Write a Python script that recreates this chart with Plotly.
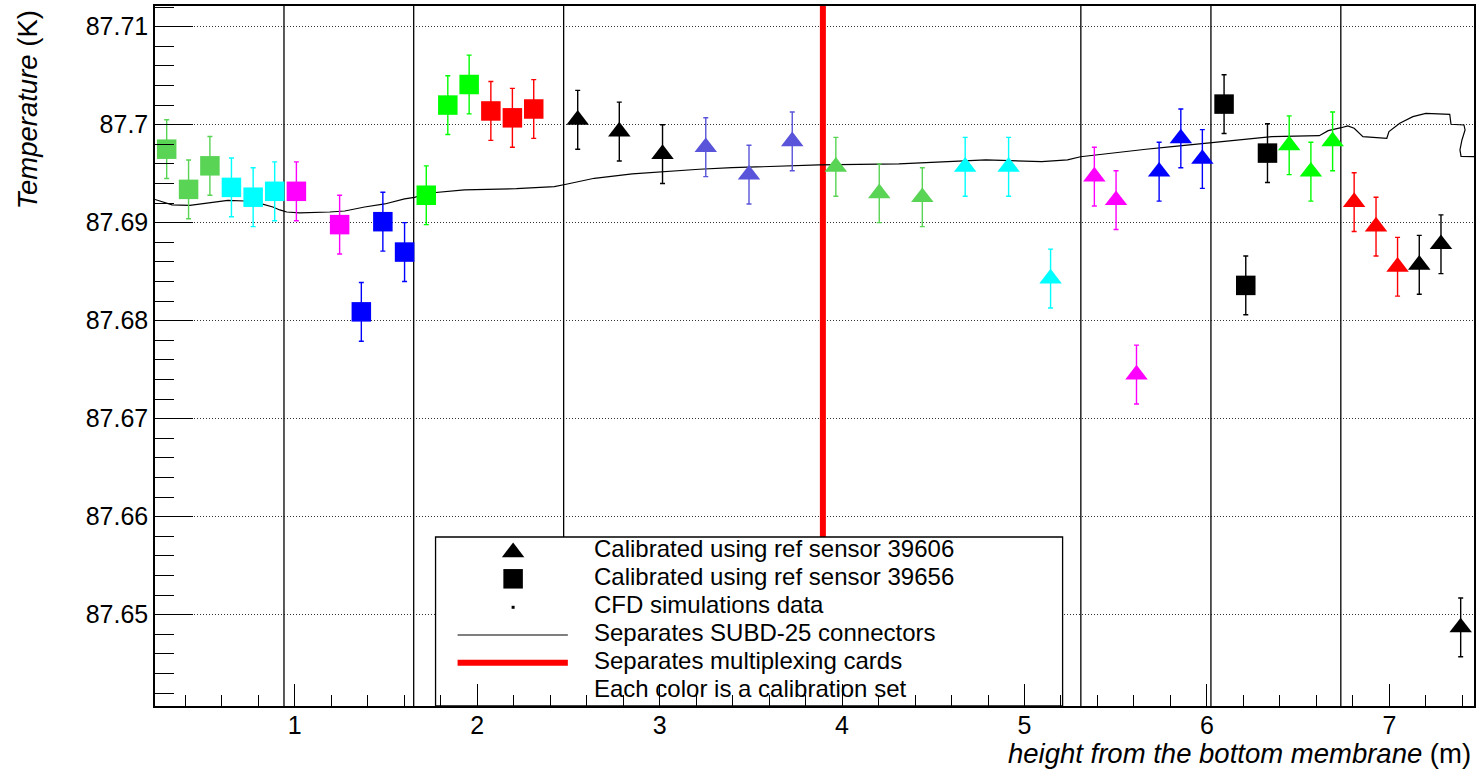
import plotly.graph_objects as go

# ---------------- data ----------------
# calibrated with ref sensor 39656 (squares)
sq_green8_x = [0.298, 0.418, 0.535]
sq_green8_y = [87.6975, 87.6934, 87.6958]
sq_cyan_x = [0.653, 0.772, 0.890]
sq_cyan_y = [87.6936, 87.6926, 87.6932]
sq_magenta_x = [1.009, 1.246]
sq_magenta_y = [87.6932, 87.6898]
sq_blue_x = [1.365, 1.483, 1.602]
sq_blue_y = [87.6809, 87.6901, 87.6870]
sq_green_x = [1.721, 1.839, 1.956]
sq_green_y = [87.6928, 87.7020, 87.7041]
sq_red_x = [2.075, 2.193, 2.310]
sq_red_y = [87.7014, 87.7007, 87.7016]
sq_black_x = [6.094, 6.213, 6.332]
sq_black_y = [87.7021, 87.6836, 87.6971]

# calibrated with ref sensor 39606 (triangles)
tri_black1_x = [2.551, 2.779, 3.016]
tri_black1_y = [87.7005, 87.6993, 87.6970]
tri_slate_x = [3.253, 3.490, 3.727]
tri_slate_y = [87.6977, 87.6949, 87.6983]
tri_green8_x = [3.966, 4.204, 4.440]
tri_green8_y = [87.6957, 87.6930, 87.6926]
tri_cyan_x = [4.675, 4.913, 5.143]
tri_cyan_y = [87.6957, 87.6957, 87.6843]
tri_magenta_x = [5.383, 5.502, 5.614]
tri_magenta_y = [87.6947, 87.6923, 87.6745]
tri_blue_x = [5.738, 5.857, 5.975]
tri_blue_y = [87.6952, 87.6986, 87.6965]
tri_green_x = [6.451, 6.570, 6.689]
tri_green_y = [87.6979, 87.6952, 87.6983]
tri_red_x = [6.807, 6.927, 7.045]
tri_red_y = [87.6921, 87.6896, 87.6855]
tri_black2_x = [7.164, 7.283, 7.391]
tri_black2_y = [87.6857, 87.6878, 87.6487]

err = 0.003

# CFD simulation profile
cfd_x = [0.234, 0.261, 0.327, 0.425, 0.480, 0.562, 0.633, 0.726, 0.819, 0.880,
         0.918, 0.956, 1.027, 1.192, 1.274, 1.383, 1.493, 1.602, 1.657, 1.728,
         1.793, 1.930, 2.215, 2.423, 2.488, 2.560, 2.642, 2.850, 3.036, 3.217,
         3.397, 3.583, 3.873, 4.311, 4.525, 4.788, 5.094, 5.236, 5.307, 5.428,
         5.548, 5.666, 5.809, 6.023, 6.140, 6.356, 6.616, 6.665, 6.736, 6.772,
         6.807, 6.855, 6.986, 6.998, 7.057, 7.129, 7.200, 7.331, 7.338, 7.409,
         7.415, 7.398, 7.387, 7.393, 7.464]
cfd_y = [87.69237, 87.69221, 87.69181, 87.69176, 87.69191, 87.69211, 87.69227, 87.69221, 87.69191, 87.69160,
         87.69130, 87.69109, 87.69099, 87.69109, 87.69119, 87.69160, 87.69191, 87.69242, 87.69259, 87.69300,
         87.69310, 87.69334, 87.69347, 87.69367, 87.69392, 87.69418, 87.69453, 87.69497, 87.69524, 87.69545,
         87.69561, 87.69571, 87.69589, 87.69599, 87.69616, 87.69640, 87.69622, 87.69640, 87.69673, 87.69701,
         87.69724, 87.69749, 87.69776, 87.69816, 87.69844, 87.69878, 87.69888, 87.69939, 87.69969, 87.69987,
         87.69963, 87.69878, 87.69861, 87.69929, 87.70014, 87.70082, 87.70116, 87.70106, 87.70004, 87.69997,
         87.69946, 87.69844, 87.69742, 87.69676, 87.69673]

# separators
sep_subd_x = [0.941, 1.652, 2.474, 5.309, 6.022, 6.734]
sep_card_x = [3.895]

x_range = [0.234, 7.464]
y_range = [87.64068, 87.71211]
ytick_vals = [87.65, 87.66, 87.67, 87.68, 87.69, 87.70, 87.71]
ytick_text = ["87.65", "87.66", "87.67", "87.68", "87.69", "87.7", "87.71"]

legend_labels = ["Calibrated using ref sensor 39606",
                 "Calibrated using ref sensor 39656",
                 "CFD simulations data",
                 "Separates SUBD-25 connectors",
                 "Separates multiplexing cards",
                 "Each color is a calibration set"]

# ---------------- colours / styles ----------------
C_GREEN8 = "#59d454"
C_CYAN = "#00ffff"
C_MAGENTA = "#ff00ff"
C_BLUE = "#0000ff"
C_GREEN = "#00ff00"
C_RED = "#ff0000"
C_BLACK = "#000000"
C_SLATE = "#5954d9"

FONT = "Liberation Sans, Arial, Helvetica, sans-serif"
SQ = 19.5
TRI = 19.5

fig = go.Figure()

# separators (drawn first, under the points)
for xs in sep_subd_x:
    fig.add_trace(go.Scatter(x=[xs, xs], y=y_range, mode="lines",
                             line=dict(color="black", width=1.3),
                             showlegend=False, hoverinfo="skip", cliponaxis=True))
for xs in sep_card_x:
    fig.add_trace(go.Scatter(x=[xs, xs], y=y_range, mode="lines",
                             line=dict(color=C_RED, width=6),
                             showlegend=False, hoverinfo="skip", cliponaxis=True))

# CFD line
fig.add_trace(go.Scatter(x=cfd_x, y=cfd_y, mode="lines",
                         line=dict(color="black", width=1.2), showlegend=False,
                         hoverinfo="skip"))

def pts(x, y, color, symbol, size):
    fig.add_trace(go.Scatter(
        x=x, y=y, mode="markers",
        marker=dict(symbol=symbol, size=size, color=color, line=dict(width=0)),
        error_y=dict(type="data", array=[err] * len(y), visible=True,
                     color=color, thickness=1.4, width=2.5),
        showlegend=False))

pts(sq_green8_x, sq_green8_y, C_GREEN8, "square", SQ)
pts(sq_cyan_x, sq_cyan_y, C_CYAN, "square", SQ)
pts(sq_magenta_x, sq_magenta_y, C_MAGENTA, "square", SQ)
pts(sq_blue_x, sq_blue_y, C_BLUE, "square", SQ)
pts(sq_green_x, sq_green_y, C_GREEN, "square", SQ)
pts(sq_red_x, sq_red_y, C_RED, "square", SQ)
pts(sq_black_x, sq_black_y, C_BLACK, "square", SQ)
pts(tri_black1_x, tri_black1_y, C_BLACK, "triangle-up", TRI)
pts(tri_slate_x, tri_slate_y, C_SLATE, "triangle-up", TRI)
pts(tri_green8_x, tri_green8_y, C_GREEN8, "triangle-up", TRI)
pts(tri_cyan_x, tri_cyan_y, C_CYAN, "triangle-up", TRI)
pts(tri_magenta_x, tri_magenta_y, C_MAGENTA, "triangle-up", TRI)
pts(tri_blue_x, tri_blue_y, C_BLUE, "triangle-up", TRI)
pts(tri_green_x, tri_green_y, C_GREEN, "triangle-up", TRI)
pts(tri_red_x, tri_red_y, C_RED, "triangle-up", TRI)
pts(tri_black2_x, tri_black2_y, C_BLACK, "triangle-up", TRI)

# legend box + glyphs on an auxiliary overlay axis (0..1 fractions of plot area)
LX0, LX1, LY0, LY1 = 0.2127, 0.6881, 0.0, 0.2414
fig.add_trace(go.Scatter(x=[LX0, LX1, LX1, LX0, LX0], y=[LY0, LY0, LY1, LY1, LY0],
                         mode="lines", fill="toself", fillcolor="white",
                         line=dict(color="black", width=1.3), xaxis="x2", yaxis="y2",
                         showlegend=False, hoverinfo="skip"))
GX = 0.2715
fig.add_trace(go.Scatter(x=[GX], y=[0.2196], mode="markers", xaxis="x2", yaxis="y2",
                         marker=dict(symbol="triangle-up", size=TRI, color="black"),
                         showlegend=False, hoverinfo="skip"))
fig.add_trace(go.Scatter(x=[GX], y=[0.1817], mode="markers", xaxis="x2", yaxis="y2",
                         marker=dict(symbol="square", size=SQ, color="black"),
                         showlegend=False, hoverinfo="skip"))
fig.add_trace(go.Scatter(x=[GX], y=[0.1410], mode="markers", xaxis="x2", yaxis="y2",
                         marker=dict(symbol="square", size=3, color="black"),
                         showlegend=False, hoverinfo="skip"))
fig.add_trace(go.Scatter(x=[0.2294, 0.3130], y=[0.1014, 0.1014], mode="lines", xaxis="x2", yaxis="y2",
                         line=dict(color="black", width=1.2), showlegend=False, hoverinfo="skip"))
fig.add_trace(go.Scatter(x=[0.2294, 0.3130], y=[0.0619, 0.0619], mode="lines", xaxis="x2", yaxis="y2",
                         line=dict(color=C_RED, width=6), showlegend=False, hoverinfo="skip"))

row_y = [0.2246, 0.1847, 0.1449, 0.1050, 0.0651, 0.0253]
for lab, yy in zip(legend_labels, row_y):
    fig.add_annotation(text=lab, xref="paper", yref="paper", x=0.3316, y=yy,
                       xanchor="left", yanchor="middle", showarrow=False,
                       font=dict(family=FONT, size=24, color="black"))

# axis titles
fig.add_annotation(text="<i>Temperature</i> (K)", xref="paper", yref="paper",
                   x=-0.0965, y=0.997, xanchor="center", yanchor="top", textangle=-90,
                   showarrow=False, font=dict(family=FONT, size=27.5, color="black"))
fig.add_annotation(text="<i>height from the bottom membrane</i> (m)", xref="paper", yref="paper",
                   x=0.9992, y=-0.0675, xanchor="right", yanchor="middle",
                   showarrow=False, font=dict(family=FONT, size=27.5, color="black"))

fig.update_layout(
    width=1479, height=769,
    margin=dict(l=155, r=3, t=6, b=63),
    paper_bgcolor="white", plot_bgcolor="white",
    font=dict(family=FONT, size=25, color="black"),
    showlegend=False,
    xaxis=dict(range=x_range, tickmode="linear", tick0=0, dtick=1,
               ticks="inside", ticklen=22, tickwidth=1.3, tickcolor="black",
               showline=True, linecolor="black", linewidth=1.5, mirror=True,
               showgrid=False, zeroline=False, ticklabelstandoff=-4,
               tickfont=dict(family=FONT, size=25, color="black"),
               minor=dict(tickmode="linear", tick0=0, dtick=0.2, ticks="inside",
                          ticklen=11, tickwidth=1.3, tickcolor="black", showgrid=False)),
    yaxis=dict(range=y_range, tickmode="array", tickvals=ytick_vals,
               ticktext=ytick_text, ticks="inside", ticklen=38, tickwidth=1.3,
               tickcolor="black", showline=True, linecolor="black", linewidth=1.5,
               mirror=True, showgrid=True, gridcolor="#333333", gridwidth=1,
               griddash="1px,2px", zeroline=False,
               tickfont=dict(family=FONT, size=25, color="black"),
               minor=dict(tickmode="linear", tick0=87.64, dtick=0.002, ticks="inside",
                          ticklen=19, tickwidth=1.3, tickcolor="black", showgrid=False)),
    xaxis2=dict(overlaying="x", range=[0, 1], visible=False, fixedrange=True),
    yaxis2=dict(overlaying="y", range=[0, 1], visible=False, fixedrange=True),
)

fig.write_html("out.html")
